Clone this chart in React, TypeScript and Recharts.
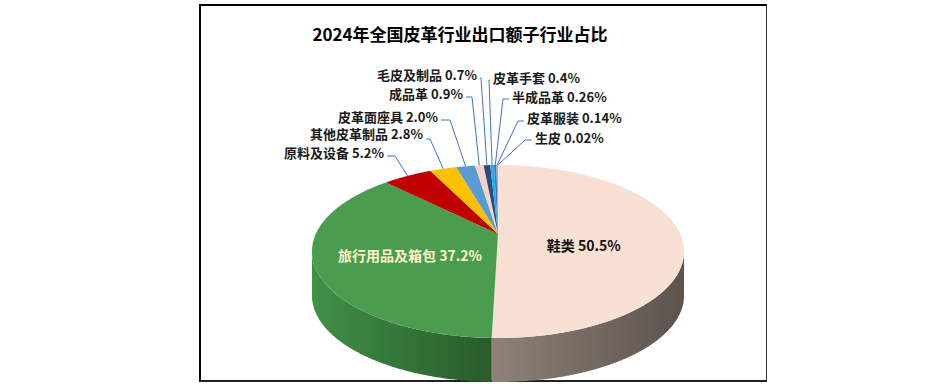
import { PieChart, Pie, Cell } from 'recharts';

// 2024年全国皮革行业出口额子行业占比 (%)
const categories = [
  '鞋类',
  '旅行用品及箱包',
  '原料及设备',
  '其他皮革制品',
  '皮革面座具',
  '成品革',
  '毛皮及制品',
  '皮革手套',
  '半成品革',
  '皮革服装',
  '生皮',
];
const shares = [50.5, 37.2, 5.2, 2.8, 2.0, 0.9, 0.7, 0.4, 0.26, 0.14, 0.02];
const shareLabels = ['50.5%', '37.2%', '5.2%', '2.8%', '2.0%', '0.9%', '0.7%', '0.4%', '0.26%', '0.14%', '0.02%'];

const topColors = [
  '#F8E0D3', '#4A9D4F', '#C00000', '#FFC000', '#5B9BD5', '#F2D4C6',
  '#2F4A7A', '#14B4EA', '#4472C4', '#A5A5A5', '#9C8B3A',
];
const sideColors: [string, string][] = [
  ['#8E8279', '#5C534D'],
  ['#409046', '#295A2B'],
];

const FONT = '"Noto Sans CJK SC", "Noto Sans", sans-serif';
const LINE = '#4472C4';

// perspective of the tilted disc
const K = 0.2023;
const A = 182.2;
const B = 82.96;
const DEPTH = 44;
const SIDE_FROM = (Math.acos(-K) * 180) / Math.PI;
const SIDE_TO = 360 - SIDE_FROM;

type Lay =
  | { kind: 'in'; r: number; dy: number; color: string }
  | { kind: 'out'; x: number; y: number; anchor: 'start' | 'end'; ly: number; ex: number };

const labelLayout: Lay[] = [
  { kind: 'in', r: 0.47, dy: 10, color: '#111111' },
  { kind: 'in', r: 0.5, dy: 5, color: '#FFF2CC' },
  { kind: 'out', x: 384, y: 152, anchor: 'end', ly: 156, ex: 395 },
  { kind: 'out', x: 423, y: 133, anchor: 'end', ly: 139, ex: 430 },
  { kind: 'out', x: 438, y: 116, anchor: 'end', ly: 120, ex: 450 },
  { kind: 'out', x: 463, y: 93, anchor: 'end', ly: 97, ex: 472 },
  { kind: 'out', x: 477, y: 74, anchor: 'end', ly: 78, ex: 481 },
  { kind: 'out', x: 493, y: 77, anchor: 'start', ly: 80, ex: 489 },
  { kind: 'out', x: 512, y: 96, anchor: 'start', ly: 99, ex: 503 },
  { kind: 'out', x: 527, y: 117, anchor: 'start', ly: 121, ex: 518 },
  { kind: 'out', x: 535, y: 137, anchor: 'start', ly: 140, ex: 525 },
];

const data = categories.map((name, i) => ({ name, value: shares[i] }));

function project(phi: number, r: number, cx: number, cy: number, dy = 0): [number, number] {
  const t = (phi * Math.PI) / 180;
  const u = r * Math.sin(t);
  const v = -r * Math.cos(t);
  const w = 1 - K * v;
  return [cx + (A * u) / w, cy + (B * v) / w + dy];
}

function arcPts(a: number, b: number, cx: number, cy: number, dy = 0) {
  const n = Math.max(2, Math.ceil(Math.abs(b - a) * 2) + 1);
  const pts: [number, number][] = [];
  for (let i = 0; i < n; i++) pts.push(project(a + ((b - a) * i) / (n - 1), 1, cx, cy, dy));
  return pts;
}

const toD = (pts: [number, number][]) =>
  'M' + pts.map((p) => `${p[0].toFixed(2)},${p[1].toFixed(2)}`).join('L') + 'Z';

function Slice3D(props: any) {
  const { cx, cy, startAngle, endAngle, fill, index } = props;
  const f0 = 90 - startAngle;
  const f1 = 90 - endAngle;
  const lo = Math.max(f0, SIDE_FROM);
  const hi = Math.min(f1, SIDE_TO);
  const sc = sideColors[index] || [fill, fill];
  const gid = `side-grad-${index}`;
  return (
    <g>
      {hi > lo && (
        <>
          <defs>
            <linearGradient id={gid} x1="0" y1="0" x2="1" y2="0">
              <stop offset="0%" stopColor={sc[0]} />
              <stop offset="100%" stopColor={sc[1]} />
            </linearGradient>
          </defs>
          <path
            d={toD([...arcPts(lo, hi, cx, cy), ...arcPts(hi, lo, cx, cy, DEPTH)])}
            fill={`url(#${gid})`}
          />
        </>
      )}
      <path d={toD([[cx, cy], ...arcPts(f0, f1, cx, cy)])} fill={fill} />
    </g>
  );
}

function renderLabel(props: any) {
  const { cx, cy, midAngle, index } = props;
  const lay = labelLayout[index];
  const text = `${categories[index]} ${shareLabels[index]}`;
  const phi = 90 - midAngle;
  if (lay.kind === 'in') {
    const [x, y] = project(phi, lay.r, cx, cy, lay.dy);
    return (
      <text x={x} y={y} textAnchor="middle" dominantBaseline="central" fill={lay.color}
        fontFamily={FONT} fontWeight="bold" fontSize={14}>
        {text}
      </text>
    );
  }
  const [px, py] = project(phi, 1, cx, cy);
  const sx = lay.anchor === 'end' ? lay.x + 3 : lay.x - 3;
  return (
    <g>
      <polyline points={`${sx},${lay.ly} ${lay.ex},${lay.ly} ${px},${py}`} fill="none" stroke={LINE} strokeWidth={1} />
      <text x={lay.x} y={lay.y} textAnchor={lay.anchor} dominantBaseline="central" fill="#1A1A1A"
        fontFamily={FONT} fontWeight="bold" fontSize={13}>
        {text}
      </text>
    </g>
  );
}

export default function App() {
  return (
    <div style={{ position: 'absolute', left: 0, top: 0, width: 947, height: 384, background: '#fff' }}>
      <div
        style={{
          position: 'absolute',
          left: 199,
          top: 4,
          width: 568,
          height: 378,
          boxSizing: 'border-box',
          borderTop: '2px solid #000',
          borderLeft: '2px solid #000',
          borderRight: '1.5px solid #333',
          borderBottom: '2px solid #222',
        }}
      />
      <div style={{ position: 'absolute', left: 0, top: 0 }}>
        <PieChart width={947} height={384}>
          <text x={460} y={33} textAnchor="middle" dominantBaseline="central" fontFamily={FONT}
            fontWeight="bold" fontSize={17} fill="#000">
            2024年全国皮革行业出口额子行业占比
          </text>
          <Pie
            data={data}
            dataKey="value"
            nameKey="name"
            cx={493}
            cy={229}
            outerRadius={186}
            startAngle={90}
            endAngle={-270}
            stroke="none"
            shape={Slice3D}
            label={renderLabel}
            labelLine={false}
            isAnimationActive={false}
          >
            {data.map((d, i) => (
              <Cell key={d.name} fill={topColors[i]} />
            ))}
          </Pie>
        </PieChart>
      </div>
    </div>
  );
}
